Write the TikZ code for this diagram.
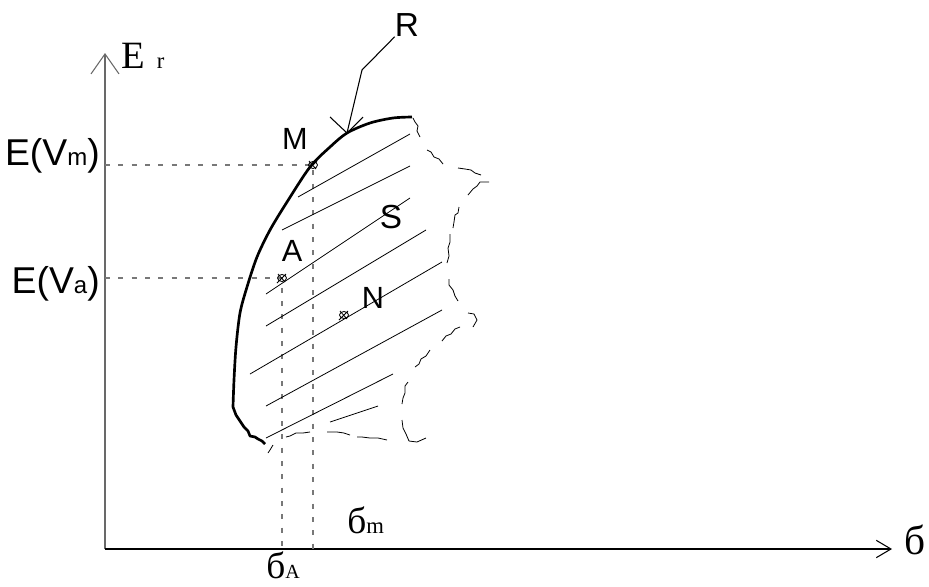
\documentclass[tikz,border=0pt]{standalone}
\usepackage{fontspec}
\setmainfont{Liberation Serif}
\setsansfont{Liberation Sans}
\usepackage{tikz}
\usetikzlibrary{arrows.meta}
\definecolor{achsgrau}{RGB}{105,105,105}
\definecolor{hilfsgrau}{RGB}{120,120,120}

\begin{document}
\begin{tikzpicture}[x=0.75pt, y=-0.75pt, inner sep=0pt,
		kurve/.style={line width=2pt, line join=round},
		duenn/.style={line width=0.6pt},
		hilfslinie/.style={hilfsgrau, line width=0.8pt, dash pattern=on 3.75pt off 6.25pt},
		gross/.style={font=\sffamily\fontsize{28}{30}\selectfont},
		mittel/.style={font=\sffamily\fontsize{23}{25}\selectfont},
		serif/.style={font=\rmfamily\fontsize{28}{30}\selectfont}]
			%Bildbereich
			\useasboundingbox (0,0) rectangle (929,586);
			% Achsen zeichnen
			\coordinate (O) at (105,549);
			\coordinate (ytip) at (105,53);
			\coordinate (xtip) at (892,549);
			\draw[achsgrau, line width=0.8pt, -{Straight Barb[length=15pt,width=21pt]}] (O) -- (ytip);
			\draw[line width=0.8pt, -{Straight Barb[length=11pt,width=13pt]}] (O) -- (xtip);
			% Achsen beschriften
			\node[font=\rmfamily\fontsize{29}{31}\selectfont, anchor=base west] (Er) at (121,68) {E\hspace{9pt}{\fontsize{17}{19}\selectfont r}};
			\node[font=\rmfamily\fontsize{31}{33}\selectfont, anchor=base west] (sx) at (904,554) {б};
			\node[gross, anchor=base east] (EVm) at (100,165) {E(V{\fontsize{18}{20}\selectfont m})};
			\node[gross, anchor=base east] (EVa) at (100,293) {E(V{\fontsize{18}{20}\selectfont a})};
			\node[serif, anchor=base west] (sm) at (347,533) {б{\fontsize{17}{19}\selectfont m}};
			\node[serif, anchor=base west] (sA) at (266,578) {б{\fontsize{15}{17}\selectfont A}};
			% Punkte und Hilfslinien
			\coordinate (M) at (313,165);
			\coordinate (A) at (282,278);
			\coordinate (N) at (344,315);
			\draw[hilfslinie] (O |- M) -- (M) -- (M |- O);
			\draw[hilfslinie] (O |- A) -- (A) -- (A |- O);
			%Schraffur
			\foreach \x/\y/\u/\v in {298/197/410/134, 282/230/410/166, 266/294/410/198, 266/326/426/230, 250/374/442/262, 266/406/442/310, 266/438/393/374, 330/422/378/406} \draw[duenn] (\x,\y) -- (\u,\v);
			% Rand R
			\draw[kurve] (265,444) -- (262,441) -- (258,439) -- (255,437) -- (250,436) -- (248,431) -- (244,427) -- (240,421) -- (236,415) -- (233,407)
				-- plot[smooth] coordinates {(233,407) (234,380) (236,347) (240,313) (247,287) (257,257) (270,230) (287,202) (310,167) (330,147) (347,133) (370,123) (393,118) (412,117)};
			% offener Rand
			\draw[duenn, line join=round] (413,118) -- (415,122) -- (418,126) -- (417,131) -- (420,137)
				(427,150) -- (431,152) -- (434,157) -- (439,159) -- (443,164)
				(458,168) -- (465,169) -- (471,170) -- (475,173) -- (481,175)
				(468,195) -- (473,189) -- (477,186) -- (480,182) -- (489,182)
				(459,207) -- (458,213) -- (455,215) -- (454,222) -- (453,228)
				(450,234) -- (450,242) -- (448,248) -- (449,256) -- (447,263)
				(449,279) -- (449,285) -- (453,290) -- (455,296) -- (458,301)
				(468,313) -- (474,314) -- (477,320) -- (473,327)
				(460,327) -- (455,329) -- (451,334) -- (446,336) -- (442,341)
				(430,350) -- (426,356) -- (421,359) -- (419,364) -- (415,367)
				(408,382) -- (405,386) -- (405,393) -- (403,398) -- (402,404)
				(402,420) -- (403,428) -- (406,434) -- (409,441) -- (417,442) -- (426,438)
				(387,440) -- (378,438) -- (370,438) -- (362,437) -- (357,437)
				(350,435) -- (344,433) -- (337,432) -- (327,432)
				(310,432) -- (303,433) -- (296,433) -- (290,436) -- (286,437)
				(273,445) -- (270,450) -- (268,453);
			% Markierungen
			\foreach \p in {M,A,N} \draw[line width=0.6pt] (\p) ellipse[x radius=4.5, y radius=3.5] ++(-5,5) -- ++(9,-9) ++(-8,0) -- ++(7,8);
			%Beschriftung
			\node[mittel] (Mlabel) at (295,139) {M};
			\node[mittel] (Alabel) at (292,251) {A};
			\node[mittel] (Nlabel) at (373,298) {N};
			\node[font=\sffamily\fontsize{25}{27}\selectfont] (Slabel) at (391,217) {S};
			\node[font=\sffamily\fontsize{25}{27}\selectfont] (R) at (407,25) {R};
			\coordinate (Rknick) at (362,70);
			\coordinate (Rspitze) at (347,133);
			\draw[line width=0.8pt] (R.south west) -- (Rknick) -- (Rspitze);
			% Pfeilspitze
			\draw[line width=0.8pt, line join=miter] (Rspitze) ++(-17,-16) -- (Rspitze) -- ++(16,-16);
		\end{tikzpicture}
\end{document}
